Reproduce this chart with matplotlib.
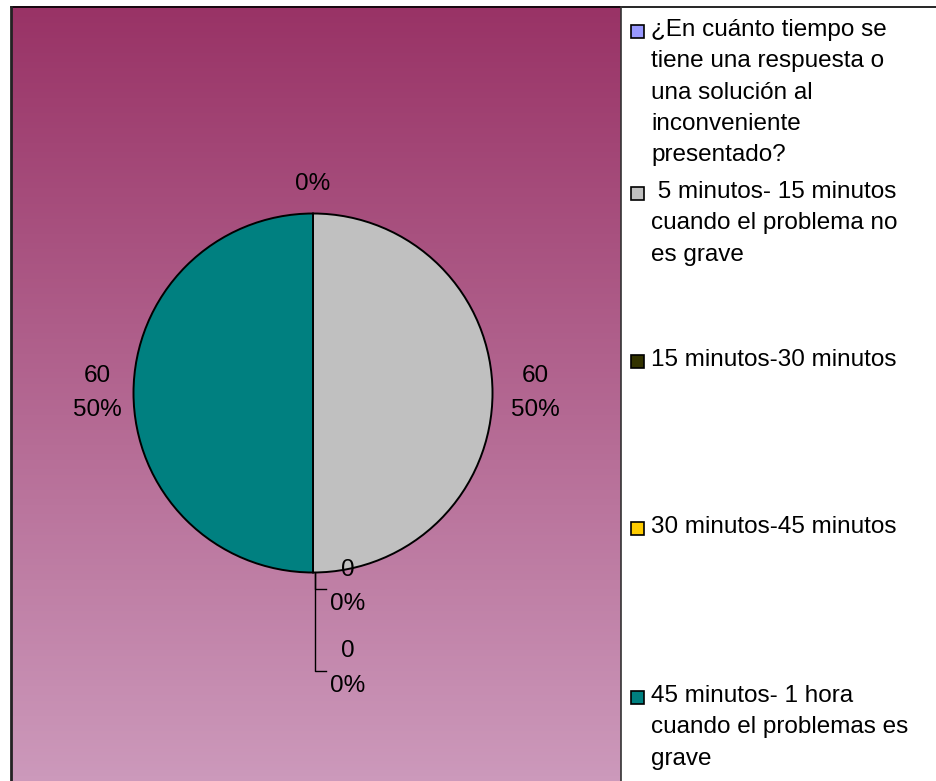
import numpy as np
import matplotlib
matplotlib.use("Agg")
import matplotlib.pyplot as plt
from matplotlib.patches import Rectangle
from matplotlib.colors import LinearSegmentedColormap

plt.rcParams['font.family'] = ['Liberation Sans', 'DejaVu Sans']

categories = [
    "¿En cuánto tiempo se\ntiene una respuesta o\nuna solución al\ninconveniente\npresentado?",
    " 5 minutos- 15 minutos\ncuando el problema no\nes grave",
    "15 minutos-30 minutos",
    "30 minutos-45 minutos",
    "45 minutos- 1 hora\ncuando el problemas es\ngrave",
]
values = [0, 60, 0, 0, 60]
value_labels = ["", "60", "0", "0", "60"]
colors = ["#9999FF", "#C0C0C0", "#333300", "#FFCC00", "#008080"]

W, H = 936, 781
fig = plt.figure(figsize=(W / 100, H / 100), dpi=100)
ax = fig.add_axes([0, 0, 1, 1])
ax.set_axis_off()

def py(y):
    return H - y

# plot area with gradient
x0, x1, ytop = 11, 621, 6.5
grad = LinearSegmentedColormap.from_list("g", ["#993366", "#CC99BB"])
ax.imshow(np.linspace(0, 1, 256).reshape(-1, 1), cmap=grad, aspect='auto',
          extent=(x0, x1, 0, py(ytop)), zorder=0, interpolation='bilinear')
ax.plot([10.5, W], [py(ytop), py(ytop)], color='black', lw=1.2, zorder=5)
ax.plot([10.5, 10.5], [0, py(ytop)], color='#222222', lw=2.0, zorder=5)
ax.plot([x1, x1], [0, py(ytop)], color='#333333', lw=1.2, zorder=5)

cx, cy, r = 313, 393, 179.5
wedges, _ = ax.pie(values, colors=colors, startangle=90, counterclock=False,
                   center=(cx, py(cy)), radius=r, frame=True,
                   wedgeprops=dict(edgecolor='black', linewidth=1.4))
ax.set_xlim(0, W)
ax.set_ylim(0, H)
ax.set_aspect('auto')

total = sum(values)
pct = [f"{round(100 * v / total):.0f}%" for v in values]
fs = 17.5
lbl_ls = 1.75
leg_ls = 1.55

# first (title) slice: percent only, above pie
ax.text(cx, py(184), pct[0], ha='center', va='center', fontsize=fs)
# right (grey) slice
ax.text(cx + r + 43, py(393), f"{value_labels[1]}\n{pct[1]}", ha='center', va='center',
        fontsize=fs, linespacing=lbl_ls)
# left (teal) slice
ax.text(cx - r - 36, py(393), f"{value_labels[4]}\n{pct[4]}", ha='center', va='center',
        fontsize=fs, linespacing=lbl_ls)
# zero slices at bottom with leader lines
lx = 315
for i, (ty, tick_y) in zip([2, 3], [(587, 589), (668.5, 671)]):
    ax.text(348, py(ty), f"{value_labels[i]}\n{pct[i]}", ha='center', va='center',
            fontsize=fs, linespacing=lbl_ls)
    ax.plot([lx, lx, lx + 11], [py(cy + r), py(tick_y), py(tick_y)], color='black', lw=1.0, zorder=4)

# legend
entry_baseline = [37, 199, 367, 534, 703]
for cat, col, bl in zip(categories, colors, entry_baseline):
    sc = bl - 6.5
    ax.add_patch(Rectangle((631, py(sc) - 7), 13, 13, facecolor=col, edgecolor='black',
                           lw=1.2, zorder=5))
    ax.text(651, py(bl - 18), cat, ha='left', va='top', fontsize=fs, linespacing=leg_ls)

fig.savefig("out.png", dpi=100)
